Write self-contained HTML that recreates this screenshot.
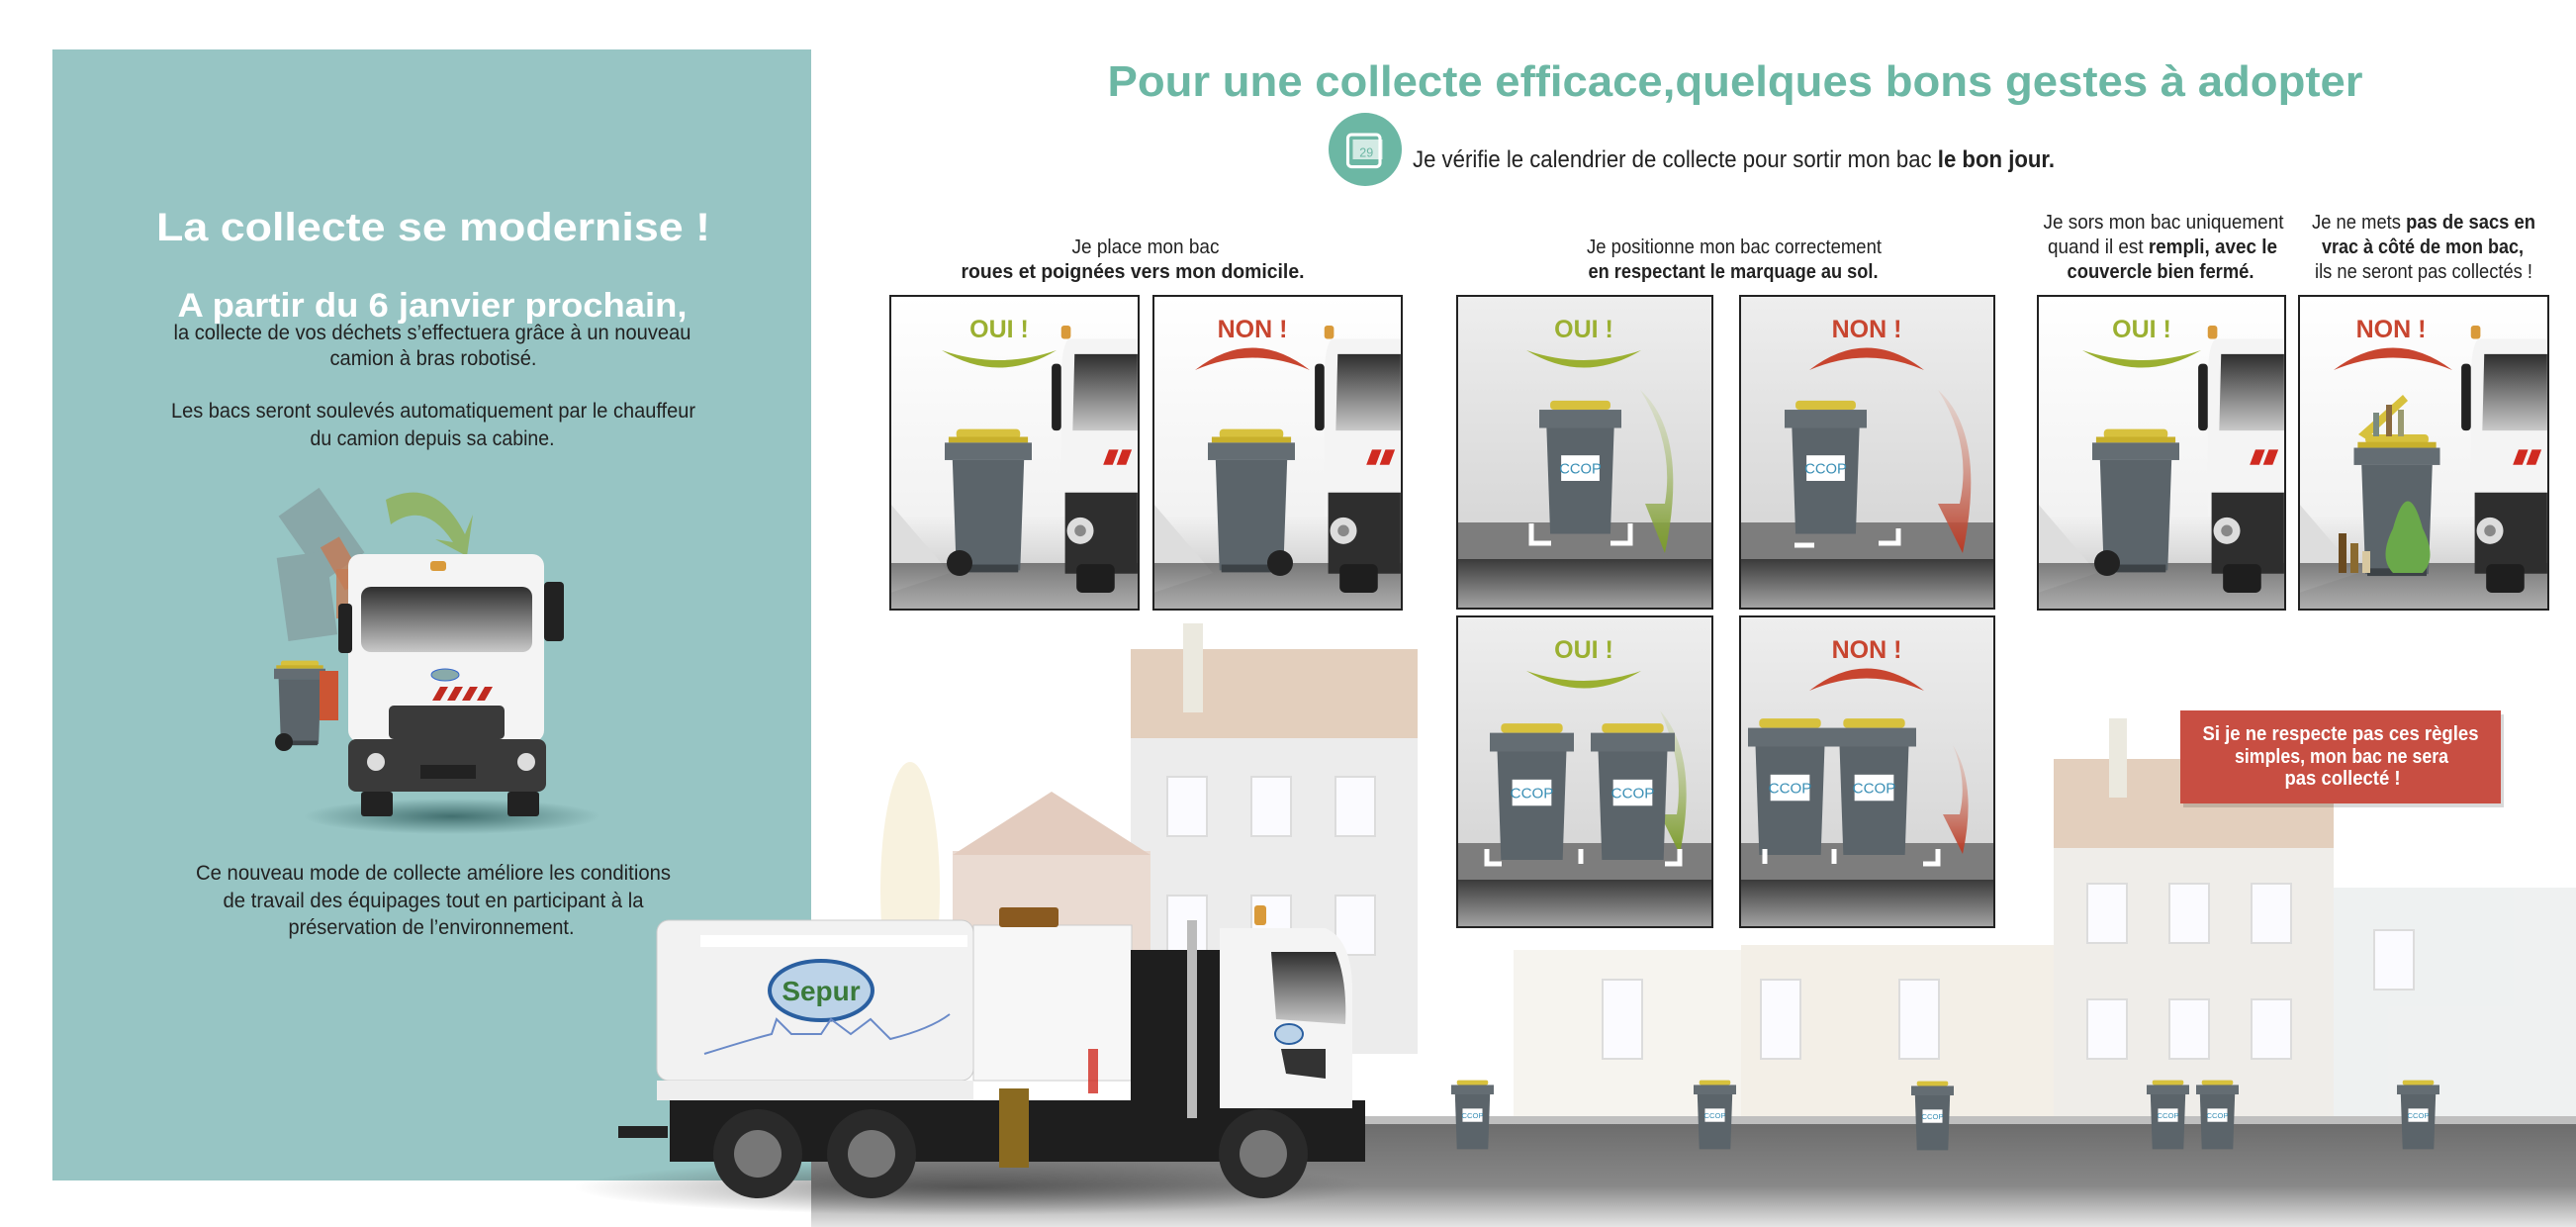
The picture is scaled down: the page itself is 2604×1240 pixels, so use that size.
<!DOCTYPE html>
<html><head><meta charset="utf-8"><style>html,body{margin:0;padding:0;background:#fff}svg{display:block}</style></head><body>
<svg width="2604" height="1240" viewBox="0 0 2604 1240" xmlns="http://www.w3.org/2000/svg" font-family="Liberation Sans, sans-serif">
<defs>
<linearGradient id="pa" x1="0" y1="0" x2="0" y2="1"><stop offset="0" stop-color="#fff"/><stop offset=".7" stop-color="#f2f2f2"/><stop offset="1" stop-color="#bbb"/></linearGradient>
<linearGradient id="pb" x1="0" y1="0" x2="0" y2="1"><stop offset="0" stop-color="#eeeeee"/><stop offset="1" stop-color="#cfcfcf"/></linearGradient>
<linearGradient id="dk" x1="0" y1="0" x2="0" y2="1"><stop offset="0" stop-color="#3a3a3a"/><stop offset="1" stop-color="#a5a5a5"/></linearGradient>
<linearGradient id="win" x1="0" y1="0" x2="0" y2="1"><stop offset="0" stop-color="#2e2e2e"/><stop offset="1" stop-color="#c9c9c9"/></linearGradient>
<linearGradient id="street" x1="0" y1="0" x2="0" y2="1"><stop offset="0" stop-color="#6d6d6d"/><stop offset=".6" stop-color="#888"/><stop offset="1" stop-color="#e6e6e6"/></linearGradient>
<linearGradient id="ga" x1="0" y1="0" x2="0" y2="1"><stop offset="0" stop-color="#c7d3a0" stop-opacity=".3"/><stop offset="1" stop-color="#7a9a2a"/></linearGradient>
<linearGradient id="ra" x1="0" y1="0" x2="0" y2="1"><stop offset="0" stop-color="#e0b0a0" stop-opacity=".3"/><stop offset="1" stop-color="#b83a25"/></linearGradient>
<radialGradient id="sh"><stop offset="0" stop-color="#2d5a5a" stop-opacity=".8"/><stop offset="1" stop-color="#2d5a5a" stop-opacity="0"/></radialGradient>
<radialGradient id="sh2"><stop offset="0" stop-color="#333" stop-opacity=".6"/><stop offset="1" stop-color="#333" stop-opacity="0"/></radialGradient>
<symbol id="bin" viewBox="0 0 90 150">
<rect x="12" y="0" width="66" height="10" rx="4" fill="#d7c13d"/>
<rect x="4" y="8" width="82" height="6" fill="#c8b02c"/>
<rect x="0" y="14" width="90" height="18" fill="#646d73"/>
<path d="M8 32 H82 L78 146 H12 Z" fill="#5b646a"/>
<rect x="14" y="140" width="62" height="8" fill="#3c4246"/>
</symbol>
<symbol id="sbin" viewBox="0 0 90 150">
<rect x="12" y="0" width="66" height="10" rx="4" fill="#d7c13d"/>
<rect x="0" y="10" width="90" height="20" fill="#646d73"/>
<path d="M8 30 H82 L78 146 H12 Z" fill="#5b646a"/>
<rect x="24" y="60" width="42" height="28" fill="#fff"/>
<text x="45" y="80" font-size="16" text-anchor="middle" fill="#3a8fb5">CCOP</text>
</symbol>
<symbol id="cab" viewBox="0 0 90 280">
<rect x="10" y="0" width="10" height="14" rx="3" fill="#d99a3a"/>
<path d="M18 14 H90 V200 H10 V60 Q10 20 18 14Z" fill="#f4f4f4"/>
<path d="M24 30 H90 V110 H22Z" fill="url(#win)"/>
<rect x="0" y="40" width="10" height="70" rx="4" fill="#222"/>
<path d="M60 130 l10 0 -6 16 -10 0z M74 130 l10 0 -6 16 -10 0z" fill="#d02a20"/>
<rect x="14" y="175" width="76" height="85" fill="#2e2e2e"/>
<circle cx="30" cy="215" r="14" fill="#ddd"/><circle cx="30" cy="215" r="6" fill="#888"/>
<rect x="26" y="250" width="40" height="30" rx="6" fill="#1e1e1e"/>
</symbol>
<symbol id="cal" viewBox="0 0 40 40"><rect x="6" y="8" width="26" height="26" rx="3" fill="none" stroke="#fff" stroke-width="2.5"/><rect x="10" y="12" width="24" height="16" fill="#fff" opacity=".7"/><text x="21" y="26" font-size="10" fill="#6cb7a4" text-anchor="middle">29</text></symbol>
</defs>

<g opacity=".5">
<rect x="1143" y="745" width="290" height="320" fill="#dadada"/>
<rect x="1143" y="656" width="290" height="90" fill="#c9a07e"/>
<rect x="1196" y="630" width="20" height="90" fill="#d8d4c0"/>
<rect x="963" y="860" width="200" height="220" fill="#d6b8a6"/>
<path d="M963 864 L1063 800 L1163 864Z" fill="#c99b80"/>
<ellipse cx="920" cy="900" rx="30" ry="130" fill="#f2e6c0"/>
<rect x="2076" y="855" width="283" height="280" fill="#e0ddd5"/>
<rect x="2076" y="767" width="283" height="90" fill="#c9a07e"/>
<rect x="2132" y="726" width="18" height="80" fill="#d8d4c0"/>
<rect x="2359" y="897" width="245" height="240" fill="#dfe4e4"/>
<rect x="1760" y="955" width="316" height="180" fill="#e8e0d0"/>
<rect x="1530" y="960" width="230" height="175" fill="#eeeae0"/>
<g fill="#f8f8ff" stroke="#bbb" stroke-width="2">
<rect x="1180" y="785" width="40" height="60"/><rect x="1265" y="785" width="40" height="60"/><rect x="1350" y="785" width="40" height="60"/>
<rect x="1180" y="905" width="40" height="60"/><rect x="1265" y="905" width="40" height="60"/><rect x="1350" y="905" width="40" height="60"/>
<rect x="2110" y="893" width="40" height="60"/><rect x="2193" y="893" width="40" height="60"/><rect x="2276" y="893" width="40" height="60"/>
<rect x="2110" y="1010" width="40" height="60"/><rect x="2193" y="1010" width="40" height="60"/><rect x="2276" y="1010" width="40" height="60"/>
<rect x="2400" y="940" width="40" height="60"/><rect x="1620" y="990" width="40" height="80"/><rect x="1780" y="990" width="40" height="80"/><rect x="1920" y="990" width="40" height="80"/>
</g>
</g>
<rect x="820" y="1128" width="1784" height="8" fill="#bfbfbf"/>
<rect x="820" y="1136" width="1784" height="104" fill="url(#street)"/>

<rect x="53" y="50" width="767" height="1143" fill="#97c5c4"/>
<g text-anchor="middle">
<text x="438" y="243" font-size="40" font-weight="bold" fill="#fff" textLength="560" lengthAdjust="spacingAndGlyphs">La collecte se modernise !</text>
<text x="437" y="320" font-size="34" font-weight="bold" fill="#fff" textLength="515" lengthAdjust="spacingAndGlyphs">A partir du 6 janvier prochain,</text>
<g font-size="21" fill="#222">
<text x="437" y="343" textLength="523" lengthAdjust="spacingAndGlyphs">la collecte de vos déchets s’effectuera grâce à un nouveau</text>
<text x="438" y="369" textLength="209" lengthAdjust="spacingAndGlyphs">camion à bras robotisé.</text>
<text x="438" y="422" textLength="530" lengthAdjust="spacingAndGlyphs">Les bacs seront soulevés automatiquement par le chauffeur</text>
<text x="437" y="450" textLength="247" lengthAdjust="spacingAndGlyphs">du camion depuis sa cabine.</text>
<text x="438" y="889" textLength="480" lengthAdjust="spacingAndGlyphs">Ce nouveau mode de collecte améliore les conditions</text>
<text x="438" y="917" textLength="425" lengthAdjust="spacingAndGlyphs">de travail des équipages tout en participant à la</text>
<text x="436" y="944" textLength="289" lengthAdjust="spacingAndGlyphs">préservation de l’environnement.</text>
</g></g>
<ellipse cx="457" cy="825" rx="150" ry="18" fill="url(#sh)"/>
<path d="M390 505 Q440 480 470 540 L478 520 L472 562 L440 545 L458 548 Q430 505 395 530Z" fill="#8fb05a" opacity=".85"/>
<g opacity=".5"><rect x="300" y="500" width="50" height="80" fill="#7c8a8e" transform="rotate(-35 325 540)"/><rect x="285" y="560" width="50" height="85" fill="#7c8a8e" transform="rotate(-8 310 600)"/></g>
<rect x="335" y="545" width="22" height="50" fill="#c47a55" opacity=".8" transform="rotate(-30 345 570)"/>
<rect x="340" y="575" width="18" height="50" fill="#c47a55" opacity=".8"/>
<rect x="352" y="560" width="198" height="190" rx="12" fill="#f4f4f4"/>
<rect x="365" y="593" width="173" height="66" rx="10" fill="url(#win)"/>
<rect x="435" y="567" width="16" height="10" rx="3" fill="#d99a3a"/>
<rect x="342" y="610" width="14" height="50" rx="4" fill="#222"/><rect x="550" y="588" width="20" height="60" rx="4" fill="#222"/>
<ellipse cx="450" cy="682" rx="14" ry="6" fill="#8aa" stroke="#36c" stroke-width="1"/>
<path d="M437 708 l8 -14 8 0 -8 14z M452 708 l8 -14 8 0 -8 14z M467 708 l8 -14 8 0 -8 14z M482 708 l8 -14 8 0 -8 14z" fill="#c02a20"/>
<rect x="393" y="713" width="117" height="34" rx="5" fill="#3a3a3a"/>
<rect x="352" y="747" width="200" height="53" rx="8" fill="#3a3a3a"/>
<circle cx="380" cy="770" r="9" fill="#ddd"/><circle cx="532" cy="770" r="9" fill="#ddd"/>
<rect x="425" y="773" width="56" height="14" fill="#222"/>
<rect x="365" y="800" width="32" height="25" rx="3" fill="#222"/><rect x="513" y="800" width="32" height="25" rx="3" fill="#222"/>
<use href="#bin" x="277" y="665" width="52" height="92"/>
<circle cx="287" cy="750" r="9" fill="#222"/>
<rect x="323" y="678" width="19" height="50" fill="#cc5533"/>

<text x="1754" y="97" text-anchor="middle" font-size="44" font-weight="bold" fill="#6cb7a4" textLength="1269" lengthAdjust="spacingAndGlyphs">Pour une collecte efficace,quelques bons gestes à adopter</text>
<circle cx="1380" cy="151" r="37" fill="#6cb7a4"/>
<use href="#cal" x="1355" y="126" width="50" height="50"/>
<text x="1428" y="169" font-size="24" fill="#222" textLength="649" lengthAdjust="spacingAndGlyphs">Je vérifie le calendrier de collecte pour sortir mon bac <tspan font-weight="bold">le bon jour.</tspan></text>

<g font-size="20" fill="#222" text-anchor="middle">
<text x="1158" y="256" textLength="149" lengthAdjust="spacingAndGlyphs">Je place mon bac</text>
<text x="1145" y="281" font-weight="bold" textLength="347" lengthAdjust="spacingAndGlyphs">roues et poignées vers mon domicile.</text>
<text x="1753" y="256" textLength="298" lengthAdjust="spacingAndGlyphs">Je positionne mon bac correctement</text>
<text x="1752" y="281" font-weight="bold" textLength="293" lengthAdjust="spacingAndGlyphs">en respectant le marquage au sol.</text>
<text x="2187" y="231" textLength="243" lengthAdjust="spacingAndGlyphs">Je sors mon bac uniquement</text>
<text x="2186" y="256" textLength="232" lengthAdjust="spacingAndGlyphs">quand il est <tspan font-weight="bold">rempli, avec le</tspan></text>
<text x="2184" y="281" font-weight="bold" textLength="189" lengthAdjust="spacingAndGlyphs">couvercle bien fermé.</text>
<text x="2450" y="231" textLength="226" lengthAdjust="spacingAndGlyphs">Je ne mets <tspan font-weight="bold">pas de sacs en</tspan></text>
<text x="2449" y="256" font-weight="bold" textLength="204" lengthAdjust="spacingAndGlyphs">vrac à côté de mon bac,</text>
<text x="2450" y="281" textLength="220" lengthAdjust="spacingAndGlyphs">ils ne seront pas collectés !</text>
</g>

<rect x="1462" y="612" width="565" height="335" fill="#fff"/>

<g transform="translate(900 299)">
<rect width="251" height="317" fill="url(#pa)"/><path d="M0 210 L60 280 L0 300Z" fill="#ddd"/><rect y="270" width="251" height="47" fill="url(#dk)" opacity=".6"/>
<use href="#cab" x="162" y="30" width="89" height="270"/>
<use href="#bin" x="55" y="133" width="88" height="150"/><circle cx="70" cy="270" r="13" fill="#222"/>
<text x="110" y="42" font-size="25" font-weight="bold" fill="#9bb031" text-anchor="middle">OUI !</text>
<path d="M52 55 Q110 90 168 55 Q110 75 52 55Z" fill="#9bb031"/>
<rect width="251" height="317" fill="none" stroke="#222" stroke-width="2"/></g>
<g transform="translate(1166 299)">
<rect width="251" height="317" fill="url(#pa)"/><path d="M0 210 L60 280 L0 300Z" fill="#ddd"/><rect y="270" width="251" height="47" fill="url(#dk)" opacity=".6"/>
<use href="#cab" x="162" y="30" width="89" height="270"/>
<use href="#bin" x="55" y="133" width="88" height="150"/><circle cx="128" cy="270" r="13" fill="#222"/>
<text x="100" y="42" font-size="25" font-weight="bold" fill="#c8452f" text-anchor="middle">NON !</text>
<path d="M42 75 Q100 30 158 75 Q100 50 42 75Z" fill="#c8452f"/>
<rect width="251" height="317" fill="none" stroke="#222" stroke-width="2"/></g>
<g transform="translate(2060 299)">
<rect width="250" height="317" fill="url(#pa)"/><path d="M0 210 L60 280 L0 300Z" fill="#ddd"/><rect y="270" width="250" height="47" fill="url(#dk)" opacity=".6"/>
<use href="#cab" x="161" y="30" width="89" height="270"/>
<use href="#bin" x="55" y="133" width="88" height="150"/><circle cx="70" cy="270" r="13" fill="#222"/>
<text x="105" y="42" font-size="25" font-weight="bold" fill="#9bb031" text-anchor="middle">OUI !</text>
<path d="M45 55 Q105 90 165 55 Q105 75 45 55Z" fill="#9bb031"/>
<rect width="250" height="317" fill="none" stroke="#222" stroke-width="2"/></g>
<g transform="translate(2324 299)">
<rect width="252" height="317" fill="url(#pa)"/><path d="M0 210 L60 280 L0 300Z" fill="#ddd"/><rect y="270" width="252" height="47" fill="url(#dk)" opacity=".6"/>
<use href="#cab" x="163" y="30" width="89" height="270"/>
<use href="#bin" x="55" y="140" width="88" height="145"/>
<path d="M60 140 L105 100 L110 106 L68 145Z" fill="#d7c13d"/>
<rect x="75" y="118" width="6" height="24" fill="#7a8a80"/><rect x="88" y="110" width="6" height="32" fill="#8a6a40"/><rect x="100" y="115" width="6" height="27" fill="#9a9a70"/>
<path d="M95 235 Q110 180 125 235 Q140 265 125 280 H95 Q80 265 95 235Z" fill="#6aa84a"/>
<rect x="40" y="240" width="8" height="40" fill="#6a4a20"/><rect x="52" y="250" width="8" height="30" fill="#8a6a30"/><rect x="64" y="258" width="8" height="22" fill="#d8c8a0"/>
<text x="93" y="42" font-size="25" font-weight="bold" fill="#c8452f" text-anchor="middle">NON !</text>
<path d="M35 75 Q95 30 155 75 Q95 50 35 75Z" fill="#c8452f"/>
<rect width="252" height="317" fill="none" stroke="#222" stroke-width="2"/></g>

<g transform="translate(1473 299)">
<rect width="258" height="316" fill="url(#pb)"/><rect y="229" width="258" height="37" fill="#7d7d7d"/><rect y="266" width="258" height="50" fill="url(#dk)"/>
<path d="M185 95 Q235 140 210 260 L190 210 L210 210 Q220 150 185 95Z" fill="url(#ga)"/>
<use href="#sbin" x="83" y="100" width="83" height="150"/>
<path d="M75 230 v20 h20 M175 230 v20 h-20" stroke="#fff" stroke-width="5" fill="none"/>
<text x="128" y="42" font-size="25" font-weight="bold" fill="#9bb031" text-anchor="middle">OUI !</text>
<path d="M70 55 Q128 90 186 55 Q128 75 70 55Z" fill="#9bb031"/>
<rect width="258" height="316" fill="none" stroke="#222" stroke-width="2"/></g>
<g transform="translate(1759 299)">
<rect width="257" height="316" fill="url(#pb)"/><rect y="229" width="257" height="37" fill="#7d7d7d"/><rect y="266" width="257" height="50" fill="url(#dk)"/>
<path d="M200 95 Q250 140 225 260 L200 210 L222 210 Q235 150 200 95Z" fill="url(#ra)"/>
<use href="#sbin" x="45" y="100" width="83" height="150"/>
<path d="M55 252 h20 M160 235 v15 h-20" stroke="#fff" stroke-width="5" fill="none"/>
<text x="128" y="42" font-size="25" font-weight="bold" fill="#c8452f" text-anchor="middle">NON !</text>
<path d="M70 75 Q128 30 186 75 Q128 50 70 75Z" fill="#c8452f"/>
<rect width="257" height="316" fill="none" stroke="#222" stroke-width="2"/></g>
<g transform="translate(1473 623)">
<rect width="258" height="314" fill="url(#pb)"/><rect y="229" width="258" height="37" fill="#7d7d7d"/><rect y="266" width="258" height="48" fill="url(#dk)"/>
<path d="M205 95 Q245 140 225 240 L205 200 L222 200 Q230 150 205 95Z" fill="url(#ga)"/>
<use href="#sbin" x="33" y="105" width="85" height="148"/><use href="#sbin" x="135" y="105" width="85" height="148"/>
<path d="M30 235 v15 h15 M125 235 v15 M225 235 v15 h-15" stroke="#fff" stroke-width="5" fill="none"/>
<text x="128" y="42" font-size="25" font-weight="bold" fill="#9bb031" text-anchor="middle">OUI !</text>
<path d="M70 55 Q128 90 186 55 Q128 75 70 55Z" fill="#9bb031"/>
<rect width="258" height="314" fill="none" stroke="#222" stroke-width="2"/></g>
<g transform="translate(1759 623)">
<rect width="257" height="314" fill="url(#pb)"/><rect y="229" width="257" height="37" fill="#7d7d7d"/><rect y="266" width="257" height="48" fill="url(#dk)"/>
<path d="M215 130 Q240 170 225 240 L205 200 L222 200 Q230 165 215 130Z" fill="url(#ra)"/>
<use href="#sbin" x="8" y="100" width="85" height="148"/><use href="#sbin" x="93" y="100" width="85" height="148"/>
<path d="M25 235 v15 M95 235 v15 M200 235 v15 h-15" stroke="#fff" stroke-width="5" fill="none"/>
<text x="128" y="42" font-size="25" font-weight="bold" fill="#c8452f" text-anchor="middle">NON !</text>
<path d="M70 75 Q128 30 186 75 Q128 50 70 75Z" fill="#c8452f"/>
<rect width="257" height="314" fill="none" stroke="#222" stroke-width="2"/></g>

<rect x="2207" y="722" width="324" height="94" fill="#000" opacity=".15"/>
<rect x="2204" y="718" width="324" height="94" fill="#c84e42"/>
<g font-size="20" font-weight="bold" fill="#fff" text-anchor="middle">
<text x="2366" y="748" textLength="279" lengthAdjust="spacingAndGlyphs">Si je ne respecte pas ces règles</text>
<text x="2367" y="771" textLength="216" lengthAdjust="spacingAndGlyphs">simples, mon bac ne sera</text>
<text x="2368" y="793" textLength="117" lengthAdjust="spacingAndGlyphs">pas collecté !</text>
</g>

<use href="#sbin" x="1467" y="1084" width="43" height="87"/>
<use href="#sbin" x="1712" y="1084" width="43" height="87"/>
<use href="#sbin" x="1932" y="1086" width="43" height="85"/>
<use href="#sbin" x="2170" y="1084" width="43" height="87"/>
<use href="#sbin" x="2220" y="1084" width="43" height="87"/>
<use href="#sbin" x="2423" y="1084" width="43" height="87"/>

<ellipse cx="980" cy="1200" rx="400" ry="28" fill="url(#sh2)"/>
<rect x="625" y="1138" width="50" height="12" fill="#222"/>
<rect x="664" y="930" width="320" height="162" rx="12" fill="#f2f2f2" stroke="#ccc"/>
<rect x="708" y="945" width="270" height="12" fill="#fff"/>
<rect x="984" y="935" width="160" height="157" fill="#f7f7f7" stroke="#ccc"/>
<rect x="1010" y="917" width="60" height="20" rx="3" fill="#8a5a20"/>
<ellipse cx="830" cy="1001" rx="52" ry="30" fill="#bcd3e8" stroke="#2a5fa0" stroke-width="4"/>
<text x="830" y="1011" font-size="28" font-weight="bold" fill="#3a7a3a" text-anchor="middle">Sepur</text>
<path d="M712 1065 Q760 1050 780 1045 L785 1030 L800 1045 L830 1045 L840 1030 L860 1045 L880 1030 L900 1050 Q940 1040 960 1025" stroke="#6a8ac8" stroke-width="2" fill="none"/>
<path d="M668 1095 l8 14 8 0 -8 -14z M684 1095 l8 14 8 0 -8 -14z M700 1095 l8 14 8 0 -8 -14z" fill="#d02a20"/>
<rect x="664" y="1092" width="320" height="20" fill="#eee"/>
<rect x="677" y="1112" width="703" height="62" fill="#1e1e1e"/>
<rect x="1143" y="960" width="95" height="190" fill="#1e1e1e"/>
<rect x="1010" y="1100" width="30" height="80" fill="#8a6a20"/>
<rect x="1200" y="930" width="10" height="200" fill="#bbb"/>
<path d="M1233 938 H1340 Q1367 950 1367 1000 V1120 H1233Z" fill="#f4f4f4"/>
<path d="M1285 962 H1350 Q1362 990 1360 1035 L1290 1030Z" fill="url(#win)"/>
<rect x="1268" y="915" width="12" height="20" rx="3" fill="#d99a3a"/>
<path d="M1295 1060 H1340 L1340 1090 L1300 1085Z" fill="#333"/>
<ellipse cx="1303" cy="1045" rx="14" ry="10" fill="#bcd3e8" stroke="#2a5fa0" stroke-width="2"/>
<rect x="1100" y="1060" width="10" height="45" fill="#d02a20" opacity=".8"/>
<g fill="#2a2a2a"><circle cx="766" cy="1166" r="45"/><circle cx="881" cy="1166" r="45"/><circle cx="1277" cy="1166" r="45"/></g>
<g fill="#777"><circle cx="766" cy="1166" r="24"/><circle cx="881" cy="1166" r="24"/><circle cx="1277" cy="1166" r="24"/></g>
</svg>
</body></html>
